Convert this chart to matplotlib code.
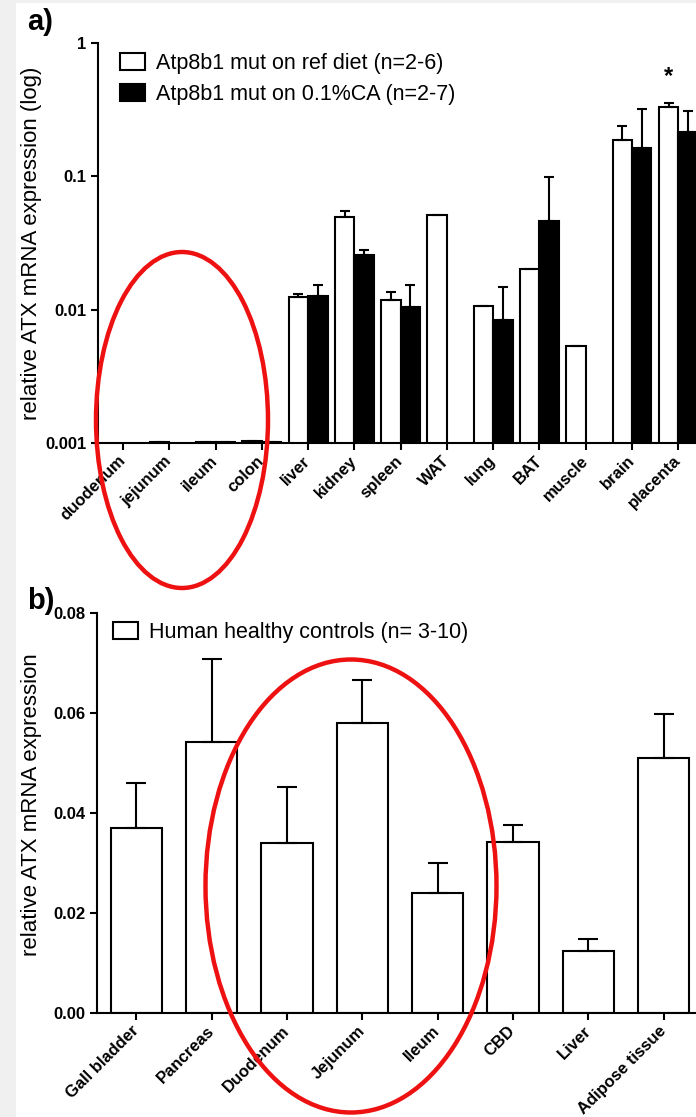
import numpy as np
import matplotlib
matplotlib.use("Agg")
import matplotlib.pyplot as plt
from matplotlib.patches import Ellipse, Rectangle
from matplotlib.ticker import NullLocator

plt.rcParams["font.family"] = ["Liberation Sans", "DejaVu Sans"]

nan = np.nan

# a) mouse tissues, log scale
tissues_mouse = ["duodenum", "jejunum", "ileum", "colon", "liver", "kidney", "spleen",
                 "WAT", "lung", "BAT", "muscle", "brain", "placenta"]
ref_diet = [nan, 0.00102, 0.00102, 0.00103, 0.0125, 0.0498, 0.0119, 0.0509, 0.0107,
            0.0201, 0.0053, 0.188, 0.331]
ref_diet_err = [nan, nan, nan, nan, 0.0006, 0.0050, 0.0017, nan, nan, nan, nan, 0.052, 0.023]
ca_diet = [nan, nan, 0.00102, 0.00102, 0.0127, 0.0256, 0.0104, nan, 0.0084, 0.0462, nan,
           0.163, 0.214]
ca_diet_err = [nan, nan, nan, nan, 0.0026, 0.0023, 0.0049, nan, 0.0065, 0.053, nan, 0.156, 0.093]

# b) human tissues
tissues_human = ["Gall bladder", "Pancreas", "Duodenum", "Jejunum", "Ileum", "CBD",
                 "Liver", "Adipose tissue"]
human_mean = [0.0370, 0.0543, 0.0340, 0.0580, 0.0240, 0.0343, 0.0125, 0.0510]
human_err = [0.0090, 0.0165, 0.0113, 0.0087, 0.0060, 0.0033, 0.0024, 0.0088]

W, H = 696, 1117
fig = plt.figure(figsize=(W / 100, H / 100), dpi=100)
fig.patch.set_facecolor("#f0f0f0")
fig.patches.append(Rectangle((16 / W, 0), 1, (H - 3) / H, transform=fig.transFigure,
                             facecolor="white", edgecolor="none", zorder=-10))

lw = 1.5
tick_font = dict(fontsize=12, fontweight="bold")


def style_axes(ax):
    for s in ["top", "right"]:
        ax.spines[s].set_visible(False)
    for s in ["left", "bottom"]:
        ax.spines[s].set_linewidth(lw)
    ax.set_facecolor("none")
    ax.tick_params(width=lw, length=5, direction="out")
    ax.tick_params(axis="x", pad=6)


# ---- panel a ----
ax1 = fig.add_axes([98 / W, 1 - 443 / H, (706 - 98) / W, 400 / H])
x = np.arange(len(tissues_mouse))
bw = 0.42
b1 = ax1.bar(x - bw / 2, ref_diet, bw, color="white", edgecolor="black", linewidth=lw,
             label="Atp8b1 mut on ref diet (n=2-6)")
b2 = ax1.bar(x + bw / 2, ca_diet, bw, color="black", edgecolor="black", linewidth=lw,
             label="Atp8b1 mut on 0.1%CA (n=2-7)")
ax1.errorbar(x - bw / 2, ref_diet, yerr=[np.zeros(len(x)), ref_diet_err], fmt="none",
             ecolor="black", elinewidth=lw, capsize=3.8, capthick=lw)
ax1.errorbar(x + bw / 2, ca_diet, yerr=[np.zeros(len(x)), ca_diet_err], fmt="none",
             ecolor="black", elinewidth=lw, capsize=3.8, capthick=lw)
ax1.set_yscale("log")
ax1.set_ylim(0.001, 1)
ax1.set_xlim(-0.54, 12.6)
ax1.set_yticks([0.001, 0.01, 0.1, 1])
ax1.set_yticklabels(["0.001", "0.01", "0.1", "1"], **tick_font)
ax1.yaxis.set_minor_locator(NullLocator())
ax1.set_xticks(x)
ax1.set_xticklabels(tissues_mouse, rotation=45, ha="right", va="center",
                    rotation_mode="anchor", **tick_font)
style_axes(ax1)
ax1.set_ylabel("relative ATX mRNA expression (log)", fontsize=16)
ax1.yaxis.set_label_coords((42 - 98) / 608, 0.5)
ax1.text(12 - bw / 2, 0.56, "*", ha="center", va="center", fontsize=17, fontweight="bold")
ax1.legend(handles=[b1, b2], loc="upper left", bbox_to_anchor=(120 / W, 1 - 53 / H),
           bbox_transform=fig.transFigure, frameon=False, fontsize=15.5,
           handlelength=1.15, handleheight=0.85, handletextpad=0.5, labelspacing=0.45,
           borderpad=0, borderaxespad=0)

# ---- panel b ----
ax2 = fig.add_axes([97 / W, 1 - 1013 / H, (703 - 97) / W, 400 / H])
x2 = np.arange(len(tissues_human))
b3 = ax2.bar(x2, human_mean, 0.68, color="white", edgecolor="black", linewidth=lw,
             label="Human healthy controls (n= 3-10)")
ax2.errorbar(x2, human_mean, yerr=[np.zeros(len(x2)), human_err], fmt="none",
             ecolor="black", elinewidth=lw, capsize=7.5, capthick=lw)
ax2.set_ylim(0, 0.08)
ax2.set_xlim(-0.52, 7.52)
ax2.set_yticks([0, 0.02, 0.04, 0.06, 0.08])
ax2.set_yticklabels(["0.00", "0.02", "0.04", "0.06", "0.08"], **tick_font)
ax2.set_xticks(x2)
ax2.set_xticklabels(tissues_human, rotation=45, ha="right", va="center",
                    rotation_mode="anchor", **tick_font)
style_axes(ax2)
ax2.set_ylabel("relative ATX mRNA expression", fontsize=16)
ax2.yaxis.set_label_coords((42 - 97) / 606, 0.52)
ax2.legend(handles=[b3], loc="upper left", bbox_to_anchor=(113 / W, 1 - 622 / H),
           bbox_transform=fig.transFigure, frameon=False, fontsize=15.5,
           handlelength=1.15, handleheight=0.85, handletextpad=0.5,
           borderpad=0, borderaxespad=0)

# panel letters
fig.text(27 / W, 1 - 30 / H, "a)", fontsize=21, fontweight="bold", va="baseline")
fig.text(27 / W, 1 - 609 / H, "b)", fontsize=21, fontweight="bold", va="baseline")

# red ellipses marking intestine
red = "#ee1111"
fig.patches.append(Ellipse((182 / W, 1 - 420 / H), 172 / W, 336 / H, transform=fig.transFigure,
                           fill=False, edgecolor=red, linewidth=3.2, zorder=20))
fig.patches.append(Ellipse((351 / W, 1 - 886 / H), 291 / W, 453 / H, transform=fig.transFigure,
                           fill=False, edgecolor=red, linewidth=3.2, zorder=20))

fig.savefig("out.png", dpi=100, facecolor=fig.get_facecolor())
